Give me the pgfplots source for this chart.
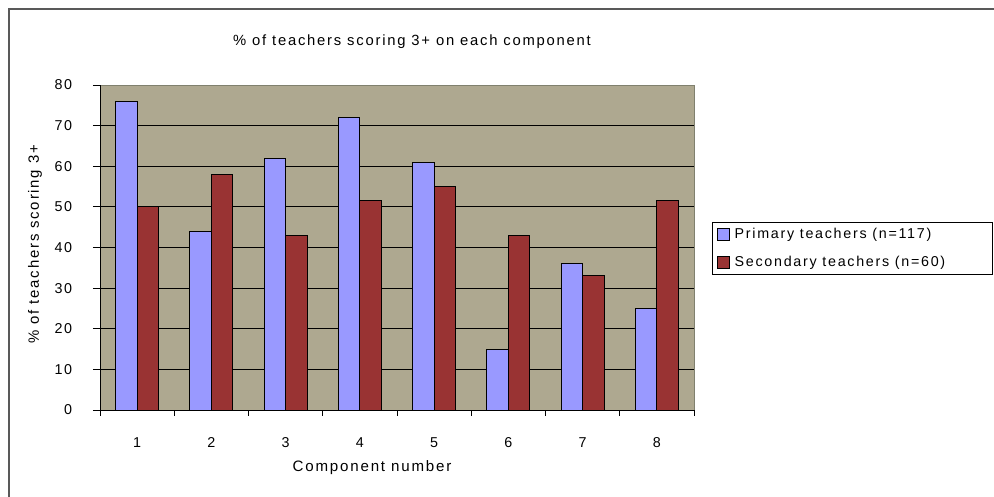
\documentclass[border=0pt]{standalone}
\usepackage{fontspec}
\setmainfont{Liberation Sans}[LetterSpace=12]
\usepackage{pgfplots}
\pgfplotsset{compat=1.18}
\definecolor{plotbg}{RGB}{174,168,144}
\definecolor{prim}{RGB}{153,153,255}
\definecolor{sec}{RGB}{153,51,51}
\definecolor{frame}{RGB}{128,128,110}
\begin{document}
\fontsize{14}{16}\selectfont
\begin{tikzpicture}
\useasboundingbox (0pt,0pt) rectangle (994pt,497pt);
\draw[line width=2.2pt, black!65] (9pt,-20pt) -- (9pt,488pt) -- (1020pt,488pt);
\node[font=\fontsize{14.8}{17}\selectfont] at (412pt,455pt) {\% of teachers scoring 3+ on each component};
\begin{axis}[
  at={(100pt,87pt)}, anchor=south west,
  scale only axis, width=594pt, height=325pt,
  xmin=0.5, xmax=8.5, ymin=0, ymax=80,
  ybar=0pt, bar width=21.5pt,
  axis background/.style={fill=plotbg, draw=frame},
  axis lines*=left,
  axis line style={-, black, line width=0.9pt},
  tick align=outside,
  major tick length=7pt, minor tick length=6pt,
  tick style={black, line width=0.9pt},
  xtick={1,...,8},
  major x tick style={draw=none},
  minor xtick={0.5,1.5,...,8.5},
  ytick={0,10,...,70},
  extra y ticks={80},
  extra y tick style={grid=none},
  ymajorgrids,
  grid style={black, line width=0.9pt},
  /pgf/number format/assume math mode=true,
  tick label style={font=\fontsize{14.3}{15}\selectfont},
  xticklabel style={yshift=-16pt},
  yticklabel style={xshift=-16pt},
  xlabel={Component number},
  ylabel={\% of teachers scoring 3+},
  every axis x label/.style={at={(axis description cs:0.458,0)}, yshift=-58pt, anchor=center, font=\fontsize{15.1}{17}\selectfont},
  every axis y label/.style={at={(axis description cs:0,0.51)}, xshift=-65pt, rotate=90, anchor=center, font=\fontsize{14.9}{17}\selectfont},
  legend style={draw=none, fill=none, at={(axis description cs:1.0387,0.497)}, anchor=west, inner sep=0pt, row sep=11pt, font=\fontsize{14.3}{16}\selectfont},
  legend cell align=left,
  legend image code/.code={\draw[#1, draw=black, line width=0.9pt] (0pt,-6pt) rectangle (12pt,6pt); \path[draw=none, fill=none] (0pt,0pt) -- (15pt,0pt);},
]
\addplot[fill=prim, draw=black, line width=0.9pt] coordinates {(1,76) (2,44) (3,62) (4,72) (5,61) (6,15) (7,36) (8,25)};
\addlegendentry{Primary teachers (n=117)}
\addplot[fill=sec, draw=black, line width=0.9pt] coordinates {(1,50) (2,58) (3,43) (4,51.5) (5,55) (6,43) (7,33) (8,51.5)};
\addlegendentry{Secondary teachers (n=60)}
\end{axis}
\draw[black, line width=0.9pt] (712pt,223pt) rectangle (992pt,275pt);
\end{tikzpicture}
\end{document}
